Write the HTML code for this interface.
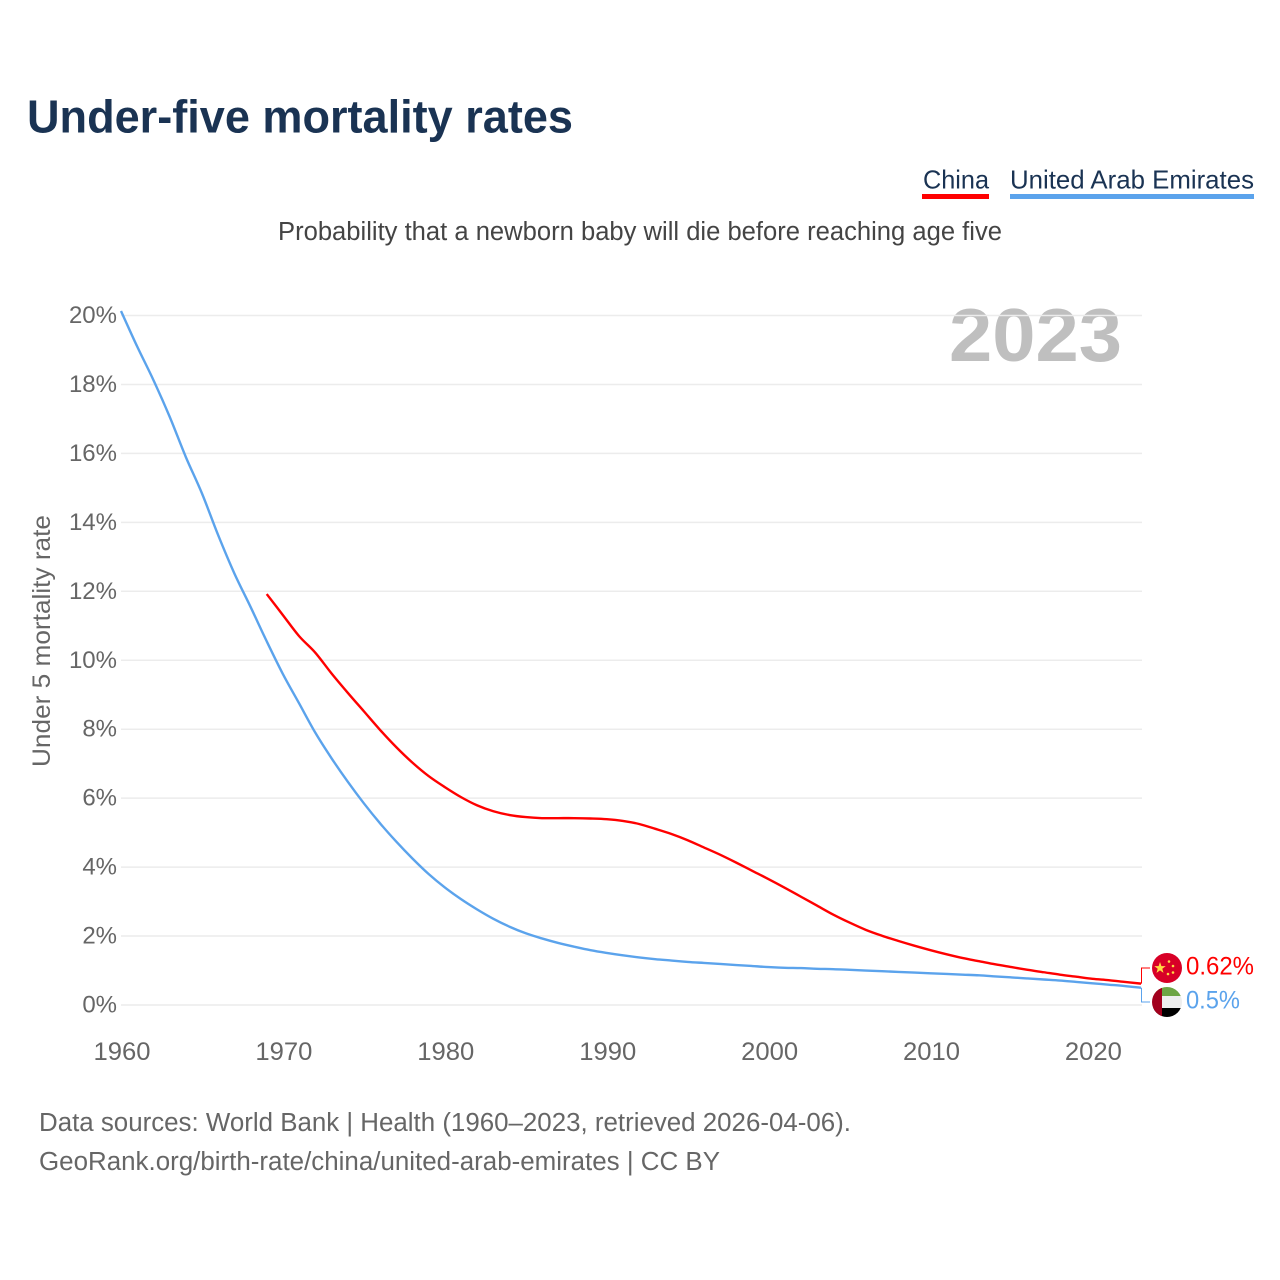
<!DOCTYPE html>
<html lang="en">
<head>
<meta charset="utf-8">
<title>Under-five mortality rates</title>
<style>
html,body{margin:0;padding:0;background:#fff;}
svg{display:block;font-family:"Liberation Sans",sans-serif;}
</style>
</head>
<body>
<svg id="chart" xmlns="http://www.w3.org/2000/svg" width="1280" height="1280" viewBox="0 0 1280 1280">
  <rect width="1280" height="1280" fill="#fff"/>
  <text x="27" y="132.5" font-size="46" font-weight="700" fill="#1a3353" textLength="546" lengthAdjust="spacingAndGlyphs">Under-five mortality rates</text>
  <text x="923" y="188.5" font-size="26" fill="#1a3353" textLength="66" lengthAdjust="spacingAndGlyphs">China</text>
  <rect x="922" y="194" width="67" height="5" fill="#ff0000"/>
  <text x="1010" y="188.5" font-size="26" fill="#1a3353" textLength="244" lengthAdjust="spacingAndGlyphs">United Arab Emirates</text>
  <rect x="1010" y="194" width="244" height="5" fill="#5ba3ec"/>
  <text x="278" y="240" font-size="25.5" fill="#444" textLength="724" lengthAdjust="spacingAndGlyphs">Probability that a newborn baby will die before reaching age five</text>
  <text x="949" y="361" font-size="75" font-weight="700" fill="#bfbfbf" textLength="173" lengthAdjust="spacingAndGlyphs">2023</text>
  <text transform="translate(50,767) rotate(-90)" x="0" y="0" font-size="25" fill="#666" textLength="252" lengthAdjust="spacingAndGlyphs">Under 5 mortality rate</text>
  <g id="grid"></g>
  <g id="yticks"></g>
  <g id="xticks"></g>
  <g id="series"></g>
  <g id="end-labels"></g>
  <g>
    <circle cx="1167" cy="968" r="15" fill="#d80027"/>
    <polygon points="1160,962 1161.4,966.1 1165.7,966.1 1162.3,968.7 1163.5,972.9 1160,970.4 1156.5,972.9 1157.7,968.7 1154.3,966.1 1158.6,966.1" fill="#ffda44"/>
    <circle cx="1169" cy="961.5" r="1.3" fill="#ffda44"/>
    <circle cx="1173" cy="966" r="1.3" fill="#ffda44"/>
    <circle cx="1173" cy="972.5" r="1.3" fill="#ffda44"/>
    <circle cx="1168" cy="974" r="1.3" fill="#ffda44"/>
  </g>
  <g>
    <clipPath id="uae-clip"><circle cx="1167" cy="1002" r="15"/></clipPath>
    <g clip-path="url(#uae-clip)">
      <rect x="1152" y="987" width="30" height="9" fill="#6da544"/>
      <rect x="1152" y="996" width="30" height="12" fill="#eeeeee"/>
      <rect x="1152" y="1008" width="30" height="9" fill="#000000"/>
      <rect x="1152" y="987" width="10" height="30" fill="#a2001d"/>
    </g>
  </g>
  <text x="39" y="1131" font-size="25.5" fill="#666" textLength="812" lengthAdjust="spacingAndGlyphs">Data sources: World Bank | Health (1960–2023, retrieved 2026-04-06).</text>
  <text x="39" y="1170" font-size="25.5" fill="#666" textLength="681" lengthAdjust="spacingAndGlyphs">GeoRank.org/birth-rate/china/united-arab-emirates | CC BY</text>
</svg>
<script>
const yTickValues = [0, 2, 4, 6, 8, 10, 12, 14, 16, 18, 20];
const xTickYears = [1960, 1970, 1980, 1990, 2000, 2010, 2020];
const uaeStartYear = 1960;
const uaeValues = [20.13, 19.1, 18.13, 17.07, 15.9, 14.84, 13.63, 12.52, 11.55, 10.55,
  9.6, 8.75, 7.9, 7.16, 6.48, 5.85, 5.27, 4.74, 4.25, 3.8,
  3.41, 3.07, 2.77, 2.5, 2.27, 2.08, 1.93, 1.8, 1.69, 1.59,
  1.51, 1.44, 1.38, 1.33, 1.29, 1.25, 1.22, 1.19, 1.16, 1.13,
  1.1, 1.08, 1.07, 1.05, 1.04, 1.02, 1.0, 0.98, 0.96, 0.94,
  0.92, 0.9, 0.88, 0.86, 0.83, 0.8, 0.77, 0.74, 0.71, 0.67,
  0.63, 0.59, 0.55, 0.5];
const chinaStartYear = 1969;
const chinaValues = [11.92, 11.31, 10.7, 10.22, 9.62, 9.06, 8.52, 7.98, 7.48, 7.03, 6.64,
  6.32, 6.03, 5.79, 5.62, 5.51, 5.45, 5.42, 5.42, 5.42, 5.41,
  5.39, 5.34, 5.25, 5.11, 4.96, 4.78, 4.57, 4.36, 4.13, 3.89,
  3.65, 3.4, 3.14, 2.88, 2.62, 2.39, 2.18, 2.01, 1.86, 1.72,
  1.59, 1.47, 1.36, 1.27, 1.18, 1.1, 1.02, 0.95, 0.88, 0.82,
  0.76, 0.72, 0.67, 0.62];
const chinaEndLabel = "0.62%";
const uaeEndLabel = "0.5%";

const NS = "http://www.w3.org/2000/svg";
const xScale = year => 121 + (year - 1960) * (1141 - 121) / (2023 - 1960);
const yScale = value => 1005 - value * (1005 - 315.5) / 20;

function make(tag, attrs, parent, content) {
  const el = document.createElementNS(NS, tag);
  for (const k in attrs) el.setAttribute(k, attrs[k]);
  if (content !== undefined) el.textContent = content;
  parent.appendChild(el);
  return el;
}

const grid = document.getElementById("grid");
const yticks = document.getElementById("yticks");
const xticks = document.getElementById("xticks");
const series = document.getElementById("series");
const endLabels = document.getElementById("end-labels");

yTickValues.forEach(v => {
  const line = make("line", {x1: 121, x2: 1142, y1: yScale(v), y2: yScale(v), stroke: "#ececec", "stroke-width": 1.5}, grid);
  
  
  const label = make("text", {x: 117, y: yScale(v) + 7.5, "text-anchor": "end", "font-size": 24, fill: "#666"}, yticks, v + "%");
  
  
});

xTickYears.forEach(y => {
  const label = make("text", {x: xScale(y) + 1, y: 1060, "text-anchor": "middle", "font-size": 25, fill: "#666", textLength: 57, lengthAdjust: "spacingAndGlyphs"}, xticks, String(y));
  
  
});

function linePath(values, startYear) {
  const pts = values.map((v, i) => [xScale(startYear + i), yScale(v)]);
  let d = "M" + pts[0][0].toFixed(2) + "," + pts[0][1].toFixed(2);
  for (let i = 0; i < pts.length - 1; i++) {
    const p0 = pts[Math.max(i - 1, 0)];
    const p1 = pts[i];
    const p2 = pts[i + 1];
    const p3 = pts[Math.min(i + 2, pts.length - 1)];
    const c1x = p1[0] + (p2[0] - p0[0]) / 6;
    const c1y = p1[1] + (p2[1] - p0[1]) / 6;
    const c2x = p2[0] - (p3[0] - p1[0]) / 6;
    const c2y = p2[1] - (p3[1] - p1[1]) / 6;
    d += "C" + c1x.toFixed(2) + "," + c1y.toFixed(2) + " " + c2x.toFixed(2) + "," + c2y.toFixed(2) + " " + p2[0].toFixed(2) + "," + p2[1].toFixed(2);
  }
  return d;
}

const uaeLine = make("path", {d: linePath(uaeValues, uaeStartYear), fill: "none", stroke: "#5ba3ec", "stroke-width": 2.4, "stroke-linejoin": "round"}, series);



const chinaLine = make("path", {d: linePath(chinaValues, chinaStartYear), fill: "none", stroke: "#ff0000", "stroke-width": 2.4, "stroke-linejoin": "round"}, series);



const chinaLast = yScale(chinaValues[chinaValues.length - 1]);
const uaeLast = yScale(uaeValues[uaeValues.length - 1]);

const chinaConn = make("polyline", {points: "1141.5," + chinaLast + " 1141.5,968 1150,968", fill: "none", stroke: "#ff0000", "stroke-width": 1}, endLabels);



const uaeConn = make("polyline", {points: "1141.5," + uaeLast + " 1141.5,1002 1150,1002", fill: "none", stroke: "#5ba3ec", "stroke-width": 1}, endLabels);



const chinaVal = make("text", {x: 1186, y: 974.5, "font-size": 25, fill: "#ff0000", textLength: 68, lengthAdjust: "spacingAndGlyphs"}, endLabels, chinaEndLabel);



const uaeVal = make("text", {x: 1186, y: 1008.5, "font-size": 25, fill: "#5ba3ec", textLength: 54, lengthAdjust: "spacingAndGlyphs"}, endLabels, uaeEndLabel);


</script>
</body>
</html>
